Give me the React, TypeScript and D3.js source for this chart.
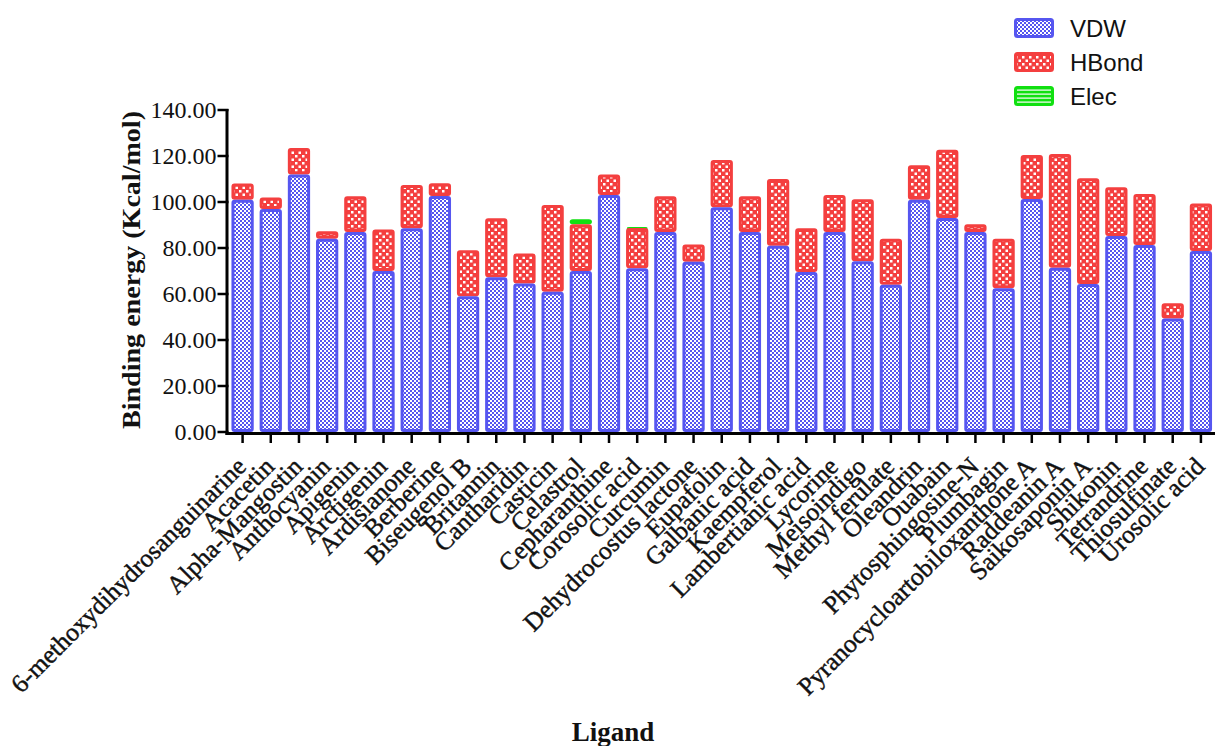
import { useMemo } from 'react';
import * as d3 from 'd3';

const WIDTH = 1215;
const HEIGHT = 746;

const ligands = [
  '6-methoxydihydrosanguinarine', 'Acacetin', 'Alpha-Mangostin', 'Anthocyanin', 'Apigenin',
  'Arctigenin', 'Ardisianone', 'Berberine', 'Biseugenol B', 'Britannin', 'Cantharidin',
  'Casticin', 'Celastrol', 'Cepharanthine', 'Corosolic acid', 'Curcumin',
  'Dehydrocostus lactone', 'Eupafolin', 'Galbanic acid', 'Kaempferol', 'Lambertianic acid',
  'Lycorine', 'Meisoindigo', 'Methyl ferulate', 'Oleandrin', 'Ouabain', 'Phytosphingosine-N',
  'Plumbagin', 'Pyranocycloartobiloxanthone A', 'Raddeanin A', 'Saikosaponin A', 'Shikonin',
  'Tetrandrine', 'Thiosulfinate', 'Urosolic acid',
];

const vdw = [
  101, 97, 112, 84, 87, 70, 88.6, 102.6, 59, 67.3, 64.6, 61, 70, 103, 71.2, 87, 74, 97.7,
  87, 81, 69.6, 87, 74.2, 64, 101, 93, 87, 62.5, 101.3, 71.4, 64.3, 85.2, 81.3, 49.4, 78.7,
];
const hbond = [
  7, 5, 11.5, 3.3, 15.5, 18, 18.8, 5.5, 20, 25.6, 13, 37.7, 20.3, 9, 17.5, 15.5, 7.5, 20.6,
  15.5, 29, 19, 16, 27, 20, 15, 29.7, 3.3, 21.5, 19.1, 49.5, 46, 21.2, 22.2, 6.6, 20.7,
];
const elec = [
  0, 0, 0, 0, 0, 0, 0, 0, 0, 0, 0, 0, 2.2, 0, 0.7, 0, 0, 0, 0, 0, 0, 0, 0, 0, 0, 0, 0, 0,
  0, 0, 0, 0, 0, 0, 0,
];
const yTicks = [0, 20, 40, 60, 80, 100, 120, 140];

const SERIES = ['VDW', 'HBond', 'Elec'];
const STROKE = { VDW: '#5656f0', HBond: '#f43f3f', Elec: '#11e011' };
const FILL = { VDW: 'url(#pVdw)', HBond: 'url(#pHb)', Elec: 'url(#pEl)' };

const X0 = 228.5;
const X1 = 1215;
const Y0 = 432;
const Y1 = 110;
const SW = 3;
const SERIF = "'Liberation Serif', 'Times New Roman', serif";

export default function App() {
  const rows = useMemo(
    () => ligands.map((name, i) => ({ name, VDW: vdw[i], HBond: hbond[i], Elec: elec[i] })),
    []
  );
  const stacked = useMemo(() => d3.stack().keys(SERIES)(rows as any), [rows]);

  const x = d3.scaleBand().domain(ligands).range([X0, X1]).paddingInner(0.21).paddingOuter(0.105);
  const y = d3.scaleLinear().domain([0, 140]).range([Y0, Y1]);
  const fmt = d3.format('.2f');

  return (
    <svg
      width={WIDTH}
      height={HEIGHT}
      viewBox={`0 0 ${WIDTH} ${HEIGHT}`}
      style={{ position: 'absolute', left: 0, top: 0, background: '#fff' }}
    >
      <defs>
        <pattern id="pVdw" width="4" height="4" patternUnits="userSpaceOnUse">
          <rect width="4" height="4" fill="#ffffff" />
          <rect width="2" height="2" fill="#5656f0" />
          <rect x="2" y="2" width="2" height="2" fill="#5656f0" />
        </pattern>
        <pattern id="pHb" width="7" height="7" patternUnits="userSpaceOnUse">
          <rect width="7" height="7" fill="#f43f3f" />
          <rect x="1" y="1" width="2.5" height="2.5" fill="#ffffff" />
          <rect x="4.5" y="4.5" width="2.5" height="2.5" fill="#ffffff" />
        </pattern>
        <pattern id="pEl" width="4" height="4" patternUnits="userSpaceOnUse">
          <rect width="4" height="4" fill="#11e011" />
          <rect y="1.5" width="4" height="1.2" fill="#ffffff" />
        </pattern>
      </defs>

      {/* bars: drawn Elec -> HBond -> VDW so the blue top edge stays visible */}
      {[...stacked].reverse().map((layer) => (
        <g key={layer.key}>
          {layer.map((d, i) => {
            const h = y(d[0]) - y(d[1]);
            if (h <= 0.01) return null;
            const bx = x(ligands[i])!;
            return (
              <rect
                key={ligands[i]}
                x={bx + SW / 2}
                y={y(d[1]) + SW / 2}
                width={x.bandwidth() - SW}
                height={Math.max(h - SW, 0.5)}
                rx={1.5}
                fill={FILL[layer.key]}
                stroke={STROKE[layer.key]}
                strokeWidth={h < SW ? Math.max(h, 1) : SW}
              />
            );
          })}
        </g>
      ))}

      {/* y axis */}
      <line x1={X0 - 1.5} x2={X0 - 1.5} y1={Y1 - 1} y2={Y0 + 3} stroke="#000" strokeWidth={3} />
      {yTicks.map((t) => (
        <g key={t}>
          <line x1={X0 - 11} x2={X0} y1={y(t)} y2={y(t)} stroke="#000" strokeWidth={2.5} />
          <text
            x={X0 - 12}
            y={y(t)}
            dy="0.35em"
            textAnchor="end"
            fontFamily={SERIF}
            fontSize={24}
            fill="#111"
          >
            {fmt(t)}
          </text>
        </g>
      ))}

      {/* x axis */}
      <line x1={X0 - 3} x2={X1} y1={Y0 + 1.5} y2={Y0 + 1.5} stroke="#000" strokeWidth={3} />
      {ligands.map((name) => {
        const cx = x(name)! + x.bandwidth() / 2;
        return (
          <g key={name}>
            <line x1={cx} x2={cx} y1={Y0} y2={Y0 + 11} stroke="#000" strokeWidth={2.5} />
            <text
              transform={`translate(${cx + 5},${Y0 + 36}) rotate(-45)`}
              textAnchor="end"
              fontFamily={SERIF}
              fontSize={25.5}
              fill="#111"
              stroke="#111"
              strokeWidth={0.45}
            >
              {name}
            </text>
          </g>
        );
      })}

      {/* axis titles */}
      <text
        transform="translate(131,270) rotate(-90)"
        textAnchor="middle"
        dominantBaseline="central"
        fontFamily={SERIF}
        fontWeight="bold"
        fontSize={25}
        textLength={318}
        lengthAdjust="spacingAndGlyphs"
        fill="#111"
      >
        Binding energy (Kcal/mol)
      </text>
      <text
        x={613}
        y={741}
        textAnchor="middle"
        fontFamily={SERIF}
        fontWeight="bold"
        fontSize={27}
        fill="#111"
      >
        Ligand
      </text>

      {/* legend */}
      {SERIES.map((s, i) => (
        <g key={s} transform={`translate(1014,${28 + i * 34})`}>
          <rect
            x={SW / 2}
            y={-10 + SW / 2}
            width={40 - SW}
            height={20 - SW}
            rx={2}
            fill={FILL[s]}
            stroke={STROKE[s]}
            strokeWidth={SW}
          />
          <text
            x={56}
            y={0}
            dy="0.36em"
            fontFamily="'Liberation Sans', Arial, sans-serif"
            fontSize={24}
            fill="#111"
          >
            {s}
          </text>
        </g>
      ))}
    </svg>
  );
}
